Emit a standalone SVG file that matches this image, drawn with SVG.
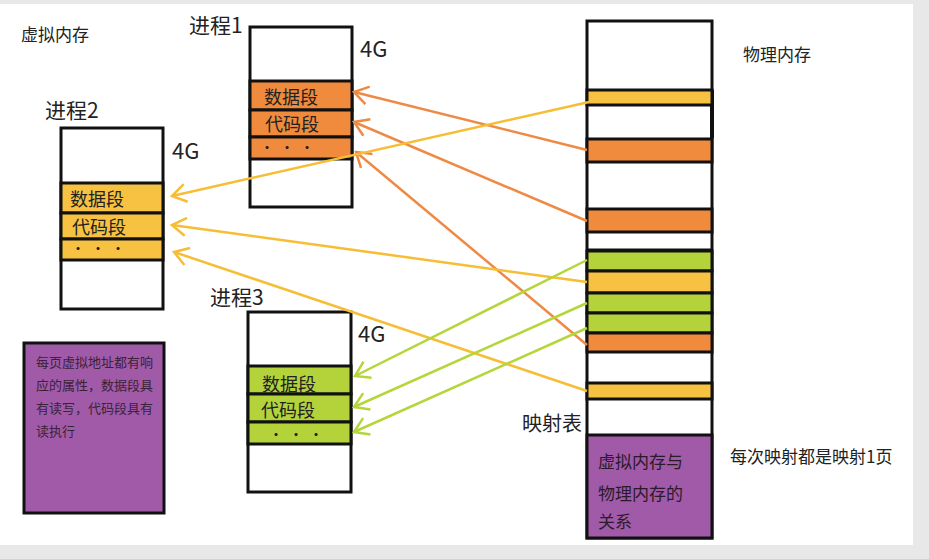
<svg xmlns="http://www.w3.org/2000/svg" width="929" height="559" viewBox="0 0 929 559">
<defs>
<style>
text{font-family:"Noto Sans CJK SC","Noto Sans",sans-serif;fill:#222}
.box{fill:#fff;stroke:#111;stroke-width:3}
.seg{stroke:#111;stroke-width:3}
.or{fill:#f08a3c}
.ye{fill:#f7c242}
.gr{fill:#b4d33b}
.pu{fill:#a05aa8}
.lbl{font-size:21px}
.g4{font-size:22px}
.segt{font-size:18px}
.dots{font-size:12px;font-weight:bold;letter-spacing:8px}
.c{fill:none;stroke-width:2.5}
.co{stroke:#ef8a45}
.cy{stroke:#f6bd35}
.cg{stroke:#b5d63a}
</style>
<marker id="ao" viewBox="-16 -10 18 20" markerWidth="18" markerHeight="20" refX="0" refY="0" orient="auto" markerUnits="userSpaceOnUse"><path d="M-14,-9 L0,0 L-14,9" fill="none" stroke="#ef8a45" stroke-width="2.5"/></marker>
<marker id="ay" viewBox="-16 -10 18 20" markerWidth="18" markerHeight="20" refX="0" refY="0" orient="auto" markerUnits="userSpaceOnUse"><path d="M-14,-9 L0,0 L-14,9" fill="none" stroke="#f6bd35" stroke-width="2.5"/></marker>
<marker id="ag" viewBox="-16 -10 18 20" markerWidth="18" markerHeight="20" refX="0" refY="0" orient="auto" markerUnits="userSpaceOnUse"><path d="M-14,-9 L0,0 L-14,9" fill="none" stroke="#b5d63a" stroke-width="2.5"/></marker>
</defs>
<rect x="0" y="0" width="929" height="559" fill="#e8e8e8"/>
<rect x="0" y="4" width="913" height="541" fill="#fff"/>

<text x="21" y="41" font-size="17">虚拟内存</text>

<g id="process1">
<text class="lbl" x="189" y="33">进程1</text>
<rect class="box" x="250" y="27" width="102" height="180"/>
<rect class="seg or" x="250" y="81" width="102" height="29"/>
<rect class="seg or" x="250" y="110" width="102" height="27"/>
<rect class="seg or" x="250" y="137" width="102" height="22"/>
<text class="segt" x="264" y="104">数据段</text>
<text class="segt" x="265" y="131">代码段</text>
<text class="dots" x="261" y="153">•••</text>
<text class="g4" x="360" y="57">4G</text>
</g>

<g id="process2">
<text class="lbl" x="45" y="118">进程2</text>
<rect class="box" x="61" y="128" width="102" height="181"/>
<rect class="seg ye" x="61" y="183" width="102" height="30"/>
<rect class="seg ye" x="61" y="213" width="102" height="26"/>
<rect class="seg ye" x="61" y="239" width="102" height="21"/>
<text class="segt" x="70" y="206">数据段</text>
<text class="segt" x="72" y="234">代码段</text>
<text class="dots" x="72" y="254">•••</text>
<text class="g4" x="172" y="159">4G</text>
</g>

<g id="process3">
<text class="lbl" x="210" y="305">进程3</text>
<rect class="box" x="248" y="312" width="103" height="180"/>
<rect class="seg gr" x="248" y="366" width="103" height="28"/>
<rect class="seg gr" x="248" y="394" width="103" height="28"/>
<rect class="seg gr" x="248" y="422" width="103" height="22"/>
<text class="segt" x="262" y="391">数据段</text>
<text class="segt" x="261" y="417">代码段</text>
<text class="dots" x="270" y="440">•••</text>
<text class="g4" x="358" y="342">4G</text>
</g>

<g id="note">
<rect x="24" y="343" width="140" height="170" class="pu" stroke="#111" stroke-width="3"/>
<text font-size="13" style="fill:#3a2238"><tspan x="36" y="367">每页虚拟地址都有响</tspan><tspan x="36" y="390">应的属性，数据段具</tspan><tspan x="36" y="413">有读写，代码段具有</tspan><tspan x="36" y="436">读执行</tspan></text>
</g>

<g id="physical">
<rect class="box" x="587" y="21" width="125" height="517"/>
<line x1="712" y1="90" x2="712" y2="138" stroke="#111" stroke-width="4"/>
<rect class="seg ye" x="587" y="90" width="125" height="15"/>
<rect class="seg or" x="587" y="139" width="125" height="23"/>
<rect class="seg or" x="587" y="209" width="125" height="23"/>
<line x1="587" y1="250" x2="713" y2="250" stroke="#111" stroke-width="3"/>
<rect class="seg gr" x="587" y="251" width="125" height="20"/>
<rect class="seg ye" x="587" y="271" width="125" height="22"/>
<rect class="seg gr" x="587" y="293" width="125" height="20"/>
<rect class="seg gr" x="587" y="313" width="125" height="20"/>
<rect class="seg or" x="587" y="333" width="125" height="19"/>
<rect class="seg ye" x="587" y="383" width="125" height="16"/>
<rect class="seg pu" x="587" y="435" width="125" height="103"/>
<text font-size="17" style="fill:#2a1a2a"><tspan x="598" y="468">虚拟内存与</tspan><tspan x="598" y="500">物理内存的</tspan><tspan x="598" y="528">关系</tspan></text>
<text x="743" y="61" font-size="17">物理内存</text>
<text x="522" y="431" font-size="20">映射表</text>
<text x="730" y="463" font-size="17">每次映射都是映射1页</text>
</g>

<g id="connectors">
<line class="c co" x1="587" y1="150" x2="354" y2="92" marker-end="url(#ao)"/>
<line class="c co" x1="587" y1="221" x2="354" y2="122" marker-end="url(#ao)"/>
<line class="c co" x1="587" y1="345" x2="356" y2="152" marker-end="url(#ao)"/>
<line class="c cy" x1="589" y1="102" x2="172" y2="196" marker-end="url(#ay)"/>
<line class="c cy" x1="587" y1="282" x2="172" y2="225" marker-end="url(#ay)"/>
<line class="c cy" x1="587" y1="391" x2="174" y2="252" marker-end="url(#ay)"/>
<line class="c cg" x1="587" y1="260" x2="355" y2="376" marker-end="url(#ag)"/>
<line class="c cg" x1="587" y1="303" x2="354" y2="407" marker-end="url(#ag)"/>
<line class="c cg" x1="587" y1="328" x2="354" y2="432" marker-end="url(#ag)"/>
</g>
</svg>
